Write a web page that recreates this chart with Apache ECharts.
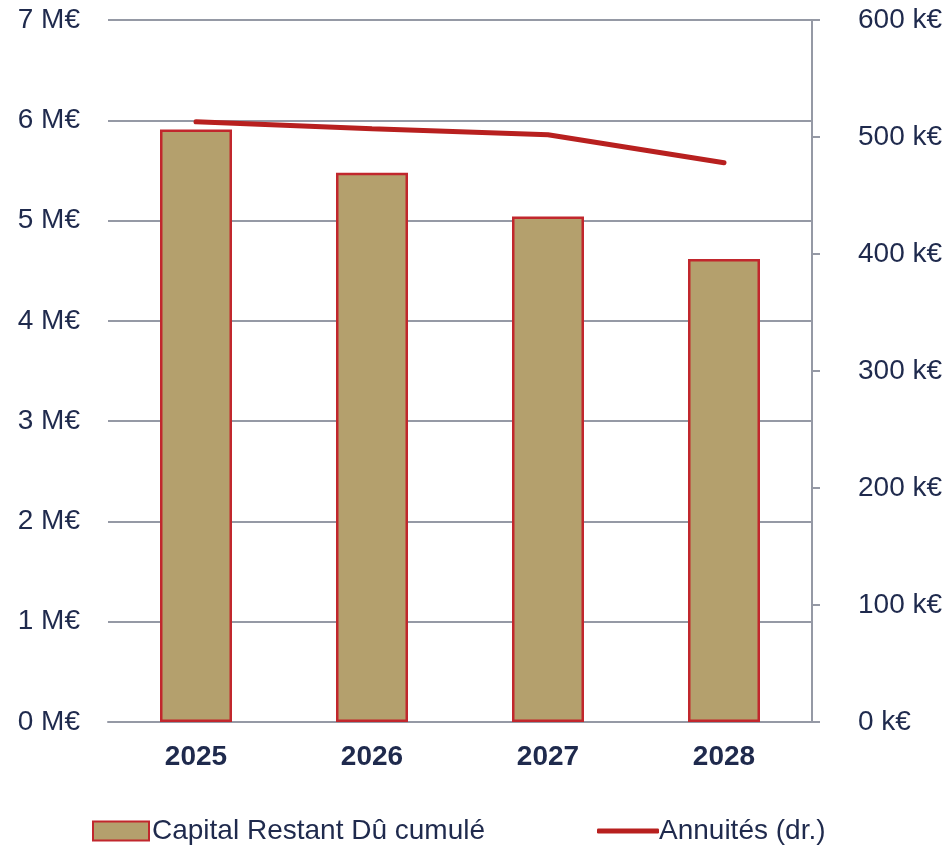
<!DOCTYPE html>
<html>
<head>
<meta charset="utf-8">
<script src="https://cdn.jsdelivr.net/npm/echarts@6/dist/echarts.min.js"></script>
<style>html,body{margin:0;padding:0;background:#fff}#c{width:952px;height:846px}</style>
</head>
<body>
<div id="c"></div>
<script>
const categories = ['2025', '2026', '2027', '2028'];
const capitalRestantDu = [5.907, 5.477, 5.04, 4.617]; // M€
const annuites = [513, 507, 502, 478]; // k€
const leftTicks = { min: 0, max: 7, interval: 1 };
const rightTicks = { min: 0, max: 600, interval: 100 };

const textColor = '#1f2a4d';
const gridColor = '#9599a5';
const font = 'Liberation Sans, Arial, sans-serif';
const fs = 28;

const chart = echarts.init(document.getElementById('c'));
chart.setOption({
  animation: false,
  textStyle: { fontFamily: font },
  grid: { left: 108, right: 140, top: 20, bottom: 124, containLabel: false },
  legend: [
    { data: [{ name: 'Capital Restant Dû cumulé', icon: 'rect' }], left: 87, top: 812, itemWidth: 56, itemHeight: 19,
      itemGap: 6, textStyle: { color: textColor, fontSize: fs, fontFamily: font, padding: [0,0,0,-2] } },
    { data: [{ name: 'Annuités (dr.)', icon: 'roundRect' }], left: 592, top: 812, itemWidth: 62, itemHeight: 5,
      textStyle: { color: textColor, fontSize: fs, fontFamily: font, padding: [0,0,0,-5] } }
  ],
  xAxis: {
    type: 'category', data: categories,
    axisLine: { lineStyle: { color: gridColor, width: 2 } },
    axisTick: { show: false },
    axisLabel: { color: textColor, fontSize: fs, fontWeight: 'bold', margin: 21, fontFamily: font }
  },
  yAxis: [
    { type: 'value', min: leftTicks.min, max: leftTicks.max, interval: leftTicks.interval,
      axisLine: { show: false }, axisTick: { show: false },
      splitLine: { lineStyle: { color: gridColor, width: 2 } },
      axisLabel: { color: textColor, fontSize: fs, margin: 28, formatter: '{value} M€', fontFamily: font } },
    { type: 'value', min: rightTicks.min, max: rightTicks.max, interval: rightTicks.interval, position: 'right',
      axisLine: { show: true, lineStyle: { color: gridColor, width: 2 } },
      axisTick: { show: true, inside: false, length: 8, lineStyle: { color: gridColor, width: 2 } },
      splitLine: { show: false },
      axisLabel: { color: textColor, fontSize: fs, margin: 46, formatter: '{value} k€', fontFamily: font } }
  ],
  series: [
    { name: 'Capital Restant Dû cumulé', type: 'bar', data: capitalRestantDu, barWidth: 72,
      itemStyle: { color: '#b4a06d', borderColor: '#c1272d', borderWidth: 2.5 } },
    { name: 'Annuités (dr.)', type: 'line', yAxisIndex: 1, data: annuites, symbol: 'none',
      lineStyle: { color: '#b8201f', width: 5, cap: 'round' }, itemStyle: { color: '#b8201f' } }
  ]
});
</script>
</body>
</html>
